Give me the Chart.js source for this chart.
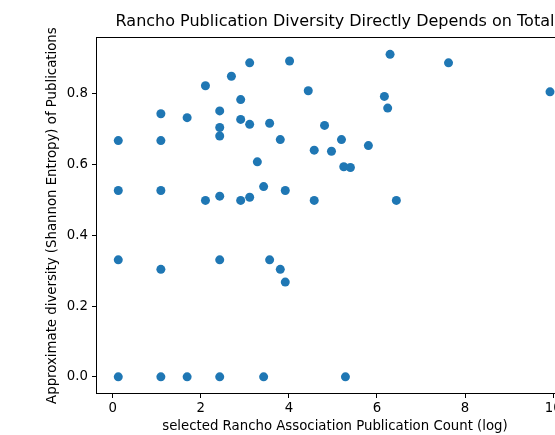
<!DOCTYPE html>
<html>
<head>
<meta charset="utf-8">
<script src="https://cdn.jsdelivr.net/npm/chart.js@4"></script>
<style>
  html, body { margin: 0; padding: 0; background: #ffffff; overflow: hidden; }
  #wrap { width: 600px; height: 435px; }
</style>
</head>
<body>
<div id="wrap"><canvas id="c" width="600" height="435"></canvas></div>
<script>
// Data
const xValues = [0.127, 0.127, 0.127, 0.127, 1.094, 1.094, 1.094, 1.094, 1.094, 1.69, 1.69,
  2.106, 2.106, 2.43, 2.43, 2.43, 2.43, 2.43, 2.43, 2.695, 2.906, 2.906, 2.906,
  3.11, 3.11, 3.11, 3.284, 3.427, 3.427, 3.563, 3.563, 3.805, 3.805, 3.918, 3.918,
  4.016, 4.44, 4.575, 4.575, 4.81, 4.967, 5.194, 5.246, 5.284, 5.397, 5.805,
  6.168, 6.243, 6.297, 6.44, 7.624, 9.928];
const yValues = [0.668, 0.527, 0.331, 0.0, 0.744, 0.668, 0.527, 0.304, 0.0, 0.733, 0.0,
  0.823, 0.499, 0.752, 0.705, 0.681, 0.511, 0.331, 0.0, 0.850, 0.784, 0.728, 0.499,
  0.888, 0.714, 0.508, 0.608, 0.538, 0.0, 0.717, 0.331, 0.671, 0.304, 0.527, 0.268,
  0.893, 0.809, 0.641, 0.499, 0.711, 0.638, 0.671, 0.594, 0.0, 0.592, 0.654,
  0.793, 0.760, 0.912, 0.499, 0.888, 0.806];
const xTicks = [0, 2, 4, 6, 8, 10];
const yTicks = [0.0, 0.2, 0.4, 0.6, 0.8];

const titleText = 'Rancho Publication Diversity Directly Depends on Total';
const xLabel = 'selected Rancho Association Publication Count (log)';
const yLabel = 'Approximate diversity (Shannon Entropy) of Publications';

const points = xValues.map((x, i) => ({ x: x, y: yValues[i] }));

const FONT = 'DejaVu Sans';

const framePlugin = {
  id: 'frame',
  afterDatasetsDraw(chart) {
    const a = chart.chartArea;
    const ctx = chart.ctx;
    ctx.save();
    ctx.strokeStyle = '#000000';
    ctx.lineWidth = 1;
    ctx.strokeRect(Math.round(a.left) - 0.5, Math.round(a.top) - 0.5,
      Math.round(a.right - a.left) + 1, Math.round(a.bottom - a.top) + 1);
    ctx.restore();
  }
};

new Chart(document.getElementById('c'), {
  type: 'scatter',
  data: {
    datasets: [{
      data: points,
      backgroundColor: '#1f77b4',
      borderColor: '#1f77b4',
      borderWidth: 0,
      pointRadius: 4.5,
      pointHoverRadius: 4.5
    }]
  },
  options: {
    responsive: false,
    animation: false,
    events: [],
    layout: { padding: { left: 0, right: 27, top: 0, bottom: 0 } },
    plugins: {
      legend: { display: false },
      tooltip: { enabled: false },
      title: {
        display: true,
        text: titleText,
        fullSize: false,
        align: 'center',
        color: '#000000',
        font: { family: FONT, size: 16, weight: 'normal', lineHeight: 1.2 },
        padding: { top: 12, bottom: 7 }
      }
    },
    scales: {
      x: {
        type: 'linear',
        min: -0.356,
        max: 10.45,
        afterFit(scale) { scale.height = 42; },
        afterBuildTicks(scale) { scale.ticks = xTicks.map(v => ({ value: v })); },
        border: { display: false },
        grid: { display: true, drawOnChartArea: false, drawTicks: true, tickLength: 5, color: '#000000', lineWidth: 1 },
        ticks: {
          color: '#000000',
          padding: 3,
          maxRotation: 0,
          font: { family: FONT, size: 13.3 },
          callback: v => String(v)
        },
        title: {
          display: true,
          text: xLabel,
          color: '#000000',
          font: { family: FONT, size: 13.3, lineHeight: 1.2 },
          padding: { top: 0, bottom: 0 }
        }
      },
      y: {
        type: 'linear',
        min: -0.0456,
        max: 0.9576,
        afterFit(scale) { scale.width = 97; },
        afterBuildTicks(scale) { scale.ticks = yTicks.map(v => ({ value: v })); },
        border: { display: false },
        grid: { display: true, drawOnChartArea: false, drawTicks: true, tickLength: 5, color: '#000000', lineWidth: 1 },
        ticks: {
          color: '#000000',
          padding: 4,
          font: { family: FONT, size: 13.3 },
          callback: v => Number(v).toFixed(1)
        },
        title: {
          display: true,
          text: yLabel,
          color: '#000000',
          font: { family: FONT, size: 13.3, lineHeight: 1.2 },
          padding: { top: 45, bottom: 0 }
        }
      }
    }
  },
  plugins: [framePlugin]
});
</script>
</body>
</html>
